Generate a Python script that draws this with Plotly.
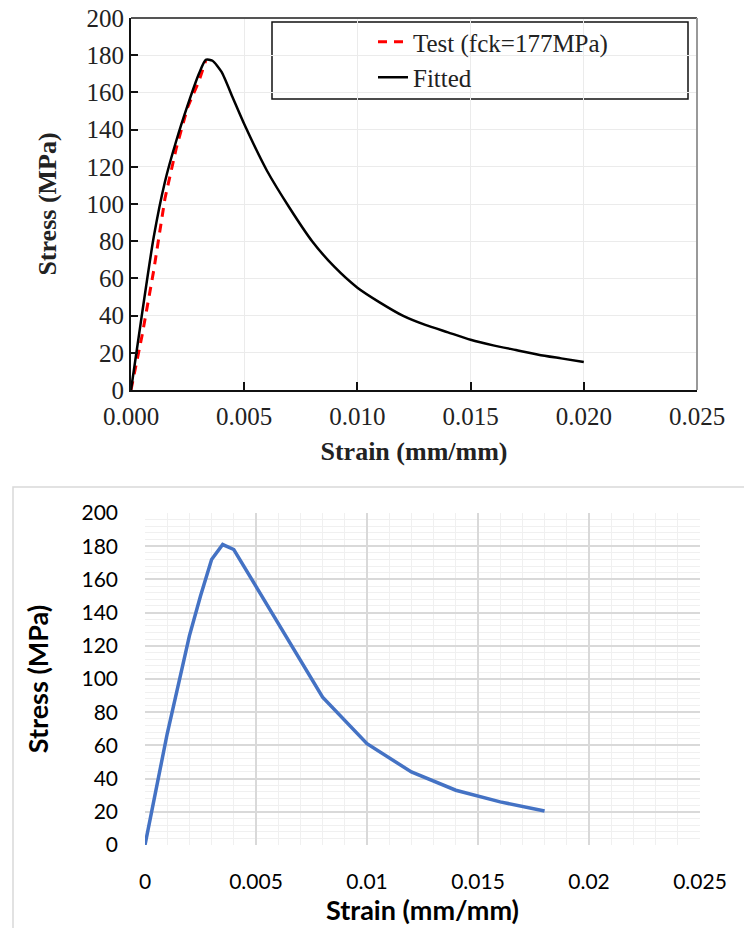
import plotly.graph_objects as go

# ---------------- data ----------------
# Top chart (published figure)
test_strain = [0, 0.0005, 0.001, 0.0015, 0.002, 0.0025, 0.003, 0.0033]
test_stress = [0, 30, 64, 103, 130, 152, 166, 177]

fit_strain = [0, 0.0005, 0.001, 0.0015, 0.002, 0.0025, 0.003, 0.0033, 0.0036, 0.004,
              0.0045, 0.005, 0.006, 0.007, 0.008, 0.009, 0.010, 0.011, 0.012, 0.013,
              0.014, 0.015, 0.016, 0.017, 0.018, 0.019, 0.020]
fit_stress = [0, 42, 82, 112, 134, 153, 170, 177.5, 177, 171,
              157, 143, 118, 98, 80, 66, 55, 47, 40, 35,
              31, 27, 24, 21.5, 19, 17, 15]

# Bottom chart (Excel-style reproduction)
fem_strain = [0, 0.001, 0.002, 0.0025, 0.003, 0.0035, 0.004, 0.006, 0.008, 0.010,
              0.012, 0.014, 0.016, 0.018]
fem_stress = [0, 67, 126, 150, 172, 181, 178, 134, 89, 61,
              44, 33, 26, 20.5]

x_ticks = [0, 0.005, 0.010, 0.015, 0.020, 0.025]
top_x_labels = ["0.000", "0.005", "0.010", "0.015", "0.020", "0.025"]
bot_x_labels = ["0", "0.005", "0.01", "0.015", "0.02", "0.025"]
y_ticks = [0, 20, 40, 60, 80, 100, 120, 140, 160, 180, 200]

legend_test = "Test (fck=177MPa)"
legend_fit = "Fitted"
x_title = "Strain (mm/mm)"
y_title = "Stress (MPa)"

# ---------------- layout helpers ----------------
W, H = 744, 928
def px_x(p):
    return p / W
def px_y(p):
    return 1 - p / H

SERIF = "Liberation Serif"
SANS = "Lato"

fig = go.Figure()

fig.add_trace(go.Scatter(
    x=test_strain, y=test_stress, mode="lines", name=legend_test,
    line=dict(color="#ff0000", width=3, dash="9px,7px"),
    xaxis="x", yaxis="y"))
fig.add_trace(go.Scatter(
    x=fit_strain, y=fit_stress, mode="lines", name=legend_fit,
    line=dict(color="#000000", width=2.5, shape="spline", smoothing=0.6),
    xaxis="x", yaxis="y"))
fig.add_trace(go.Scatter(
    x=fem_strain, y=fem_stress, mode="lines", showlegend=False,
    line=dict(color="#4472C4", width=3.5),
    xaxis="x2", yaxis="y2"))

fig.update_layout(
    width=W, height=H,
    margin=dict(l=0, r=0, t=0, b=0),
    paper_bgcolor="white", plot_bgcolor="white",
    showlegend=True,
    legend=dict(x=px_x(373), xanchor="left", y=px_y(19), yanchor="top",
                bgcolor="rgba(0,0,0,0)", borderwidth=0,
                font=dict(family=SERIF, size=25, color="#222"),
                tracegroupgap=0),
    xaxis=dict(domain=[px_x(131), px_x(697)], anchor="y",
               range=[0, 0.025], tickvals=x_ticks, ticktext=top_x_labels,
               ticks="inside", ticklen=8, tickwidth=2, tickcolor="#111",
               showline=True, linecolor="#111", linewidth=2,
               showgrid=True, gridcolor="#ebebeb", gridwidth=1,
               zeroline=False, automargin=False, ticklabelstandoff=3,
               tickfont=dict(family=SERIF, size=25, color="#222"),
               title=dict(text="<b>" + x_title + "</b>", standoff=13,
                          font=dict(family=SERIF, size=26, color="#222"))),
    yaxis=dict(domain=[px_y(390), px_y(18)], anchor="x",
               range=[0, 200], tickvals=y_ticks,
               ticks="inside", ticklen=7, tickwidth=2, tickcolor="#111",
               showline=True, linecolor="#111", linewidth=2,
               showgrid=True, gridcolor="#ebebeb", gridwidth=1,
               zeroline=False, automargin=False,
               tickfont=dict(family=SERIF, size=25, color="#222"),
               title=dict(text="<b>" + y_title + "</b>", standoff=22,
                          font=dict(family=SERIF, size=26, color="#222"))),
    xaxis2=dict(domain=[px_x(145), px_x(700)], anchor="y2",
                range=[0, 0.025], tickvals=x_ticks, ticktext=bot_x_labels,
                ticks="", showline=False,
                showgrid=True, gridcolor="#d9d9d9", gridwidth=1.5,
                minor=dict(dtick=0.001, showgrid=True, gridcolor="#f0f0f0", gridwidth=1),
                zeroline=False, automargin=False, ticklabelstandoff=22,
                tickfont=dict(family=SANS, size=21, color="#000"),
                title=dict(text="<b>" + x_title + "</b>", standoff=2,
                           font=dict(family=SANS, size=27, color="#000"))),
    yaxis2=dict(domain=[px_y(845), px_y(513)], anchor="x2",
                range=[0, 200], tickvals=y_ticks,
                ticks="", showline=False,
                showgrid=True, gridcolor="#d9d9d9", gridwidth=1.5,
                minor=dict(dtick=4, showgrid=True, gridcolor="#f0f0f0", gridwidth=1),
                zeroline=False, automargin=False, ticklabelstandoff=26,
                tickfont=dict(family=SANS, size=21, color="#000"),
                title=dict(text="<b>" + y_title + "</b>", standoff=25,
                           font=dict(family=SANS, size=27, color="#000"))),
    shapes=[
        # top chart: gray frame on top/right
        dict(type="line", xref="paper", yref="paper",
             x0=px_x(131), x1=px_x(697), y0=px_y(18), y1=px_y(18),
             line=dict(color="#555", width=2)),
        dict(type="line", xref="paper", yref="paper",
             x0=px_x(697), x1=px_x(697), y0=px_y(18), y1=px_y(390),
             line=dict(color="#999", width=2)),
        # top chart legend box
        dict(type="rect", xref="paper", yref="paper",
             x0=px_x(272), x1=px_x(688), y0=px_y(99), y1=px_y(22),
             line=dict(color="#111", width=1.5), fillcolor="white", layer="below"),
        # bottom chart outer border
        dict(type="rect", xref="paper", yref="paper",
             x0=px_x(13), x1=px_x(760), y0=px_y(940), y1=px_y(487),
             line=dict(color="#d9d9d9", width=1.5), fillcolor="rgba(0,0,0,0)"),
    ],
)

fig.write_html("out.html", config={"displayModeBar": False},
               post_script="document.body.style.margin='0';document.body.style.overflow='hidden';")
